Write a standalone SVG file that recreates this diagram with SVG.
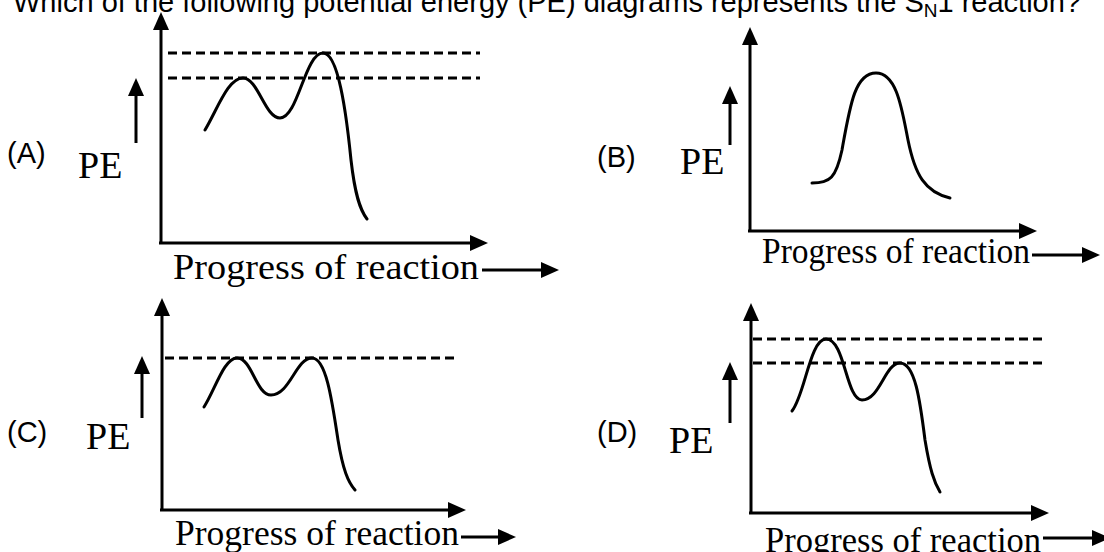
<svg xmlns="http://www.w3.org/2000/svg" width="1104" height="552" viewBox="0 0 1104 552">
<style>
.ax{stroke:#000;stroke-width:3;fill:none;marker-end:url(#ah)}
.cv{stroke:#000;stroke-width:3;fill:none;stroke-linecap:round;stroke-linejoin:round}
.ds{stroke:#000;stroke-width:3;fill:none;stroke-dasharray:9 5}
.lb{font-family:"Liberation Sans",Arial,sans-serif;font-size:29px;fill:#000}
.pe{font-family:"Liberation Serif","Times New Roman",serif;font-size:38px;fill:#000}
.pr{font-family:"Liberation Serif","Times New Roman",serif;font-size:36px;fill:#000}
.tt{font-family:"Liberation Sans",Arial,sans-serif;font-size:29px;fill:#000}
</style>
<defs>
<marker id="ah" viewBox="0 0 18 16" refX="8" refY="8" markerWidth="18" markerHeight="16" markerUnits="userSpaceOnUse" orient="auto">
<path d="M0,0 L18,8 L0,16 z" fill="#000"/>
</marker>
</defs>
<rect width="1104" height="552" fill="#fff"/>
<text class="tt" x="13" y="12">Which of the following potential energy (PE) diagrams represents the S<tspan font-size="19" dy="5">N</tspan><tspan dy="-5">1 reaction?</tspan></text>

<g id="panelA">
<text class="lb" x="7" y="163">(A)</text>
<text class="pe" x="78" y="178">PE</text>
<line class="ax" x1="136" y1="143" x2="136" y2="88"/>
<line class="ax" x1="161" y1="243" x2="161" y2="22"/>
<line class="ax" x1="159" y1="243" x2="478" y2="243"/>
<line class="ds" x1="168" y1="53" x2="480" y2="53"/>
<line class="ds" x1="168" y1="78" x2="480" y2="78"/>
<path class="cv" d="M205,130 C218,108 228,78 243,78 C258,78 265,118 280,118 C298,118 305,53 323,53 C338,53 346,110 351,160 C355,195 360,210 367,219"/>
<text class="pr" x="173" y="279" textLength="306" lengthAdjust="spacingAndGlyphs">Progress of reaction</text>
<line class="ax" x1="482" y1="270" x2="549" y2="270"/>
</g>

<g id="panelB">
<text class="lb" x="597" y="167">(B)</text>
<text class="pe" x="680" y="174" font-size="33">PE</text>
<line class="ax" x1="730" y1="145" x2="730" y2="96"/>
<line class="ax" x1="750" y1="231" x2="750" y2="37"/>
<line class="ax" x1="748" y1="231" x2="1027" y2="231"/>
<path class="cv" d="M812,183 C830,183 836,178 842,150 C850,105 855,73 876,73 C897,73 902,110 908,140 C915,175 925,192 950,198"/>
<text class="pr" x="762" y="263" font-size="34" textLength="268" lengthAdjust="spacingAndGlyphs">Progress of reaction</text>
<line class="ax" x1="1032" y1="255" x2="1090" y2="255"/>
</g>

<g id="panelC">
<text class="lb" x="7" y="442">(C)</text>
<text class="pe" x="86" y="449" font-size="35">PE</text>
<line class="ax" x1="142" y1="418" x2="142" y2="366"/>
<line class="ax" x1="162" y1="510" x2="162" y2="308"/>
<line class="ax" x1="160" y1="510" x2="456" y2="510"/>
<line class="ds" x1="165" y1="358" x2="457" y2="358"/>
<path class="cv" d="M204,407 C215,390 224,358 237,358 C252,358 256,395 271,395 C290,395 296,358 312,358 C326,358 332,400 338,440 C343,470 348,482 355,490"/>
<text class="pr" x="175" y="545" font-size="35" textLength="284" lengthAdjust="spacingAndGlyphs">Progress of reaction</text>
<line class="ax" x1="461" y1="537" x2="506" y2="537"/>
</g>

<g id="panelD">
<text class="lb" x="597" y="442">(D)</text>
<text class="pe" x="669" y="453" font-size="36">PE</text>
<line class="ax" x1="730" y1="423" x2="730" y2="372"/>
<line class="ax" x1="751" y1="513" x2="751" y2="313"/>
<line class="ax" x1="749" y1="513" x2="1039" y2="513"/>
<line class="ds" x1="753" y1="339" x2="1042" y2="339"/>
<line class="ds" x1="753" y1="363" x2="1042" y2="363"/>
<path class="cv" d="M792,411 C805,395 810,339 826,339 C845,339 846,400 862,400 C880,400 885,363 900,363 C915,363 920,400 925,440 C930,470 934,482 940,492"/>
<text class="pr" x="765" y="552" font-size="35" textLength="276" lengthAdjust="spacingAndGlyphs">Progress of reaction</text>
<line class="ax" x1="1043" y1="538" x2="1100" y2="538"/>
</g>
</svg>
